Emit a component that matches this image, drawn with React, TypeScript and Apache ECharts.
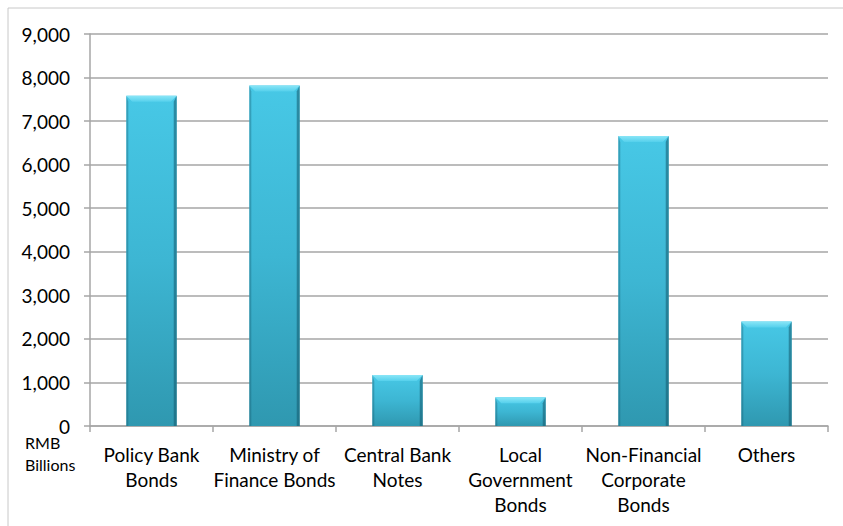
import React, { useEffect, useRef } from "react";
import * as echarts from "echarts";

const categories = [
  "Policy Bank\nBonds",
  "Ministry of\nFinance Bonds",
  "Central Bank\nNotes",
  "Local\nGovernment\nBonds",
  "Non-Financial\nCorporate\nBonds",
  "Others",
];
const values = [7580, 7820, 1170, 660, 6660, 2400];
const yTicks = { min: 0, max: 9000, interval: 1000 };
const unitLabel = "RMB\nBillions";

const FONT = "Lato, 'Open Sans', sans-serif";

export default function App() {
  const ref = useRef<HTMLDivElement>(null);
  useEffect(() => {
    if (!ref.current) return;
    const chart = echarts.init(ref.current, undefined, { renderer: "svg" });
    chart.setOption({
      animation: false,
      backgroundColor: "#ffffff",
      grid: { left: 90, right: 15, top: 34, bottom: 100, containLabel: false },
      graphic: [
        {
          type: "rect",
          shape: { x: 8, y: 8, width: 1000, height: 800 },
          style: { fill: "none", stroke: "#c8c8c8", lineWidth: 1 },
          z: -10,
        },
        {
          type: "text",
          left: 25,
          top: 431,
          style: {
            text: unitLabel,
            fontFamily: FONT,
            fontSize: 16,
            lineHeight: 22,
            fill: "#000",
          },
        },
      ],
      xAxis: {
        type: "category",
        data: categories,
        boundaryGap: true,
        axisLine: { show: true, lineStyle: { color: "#a6a6a6", width: 1.5 } },
        axisTick: { show: true, length: 6, lineStyle: { color: "#a6a6a6", width: 1.5 } },
        axisLabel: {
          interval: 0,
          margin: 16,
          fontFamily: FONT,
          fontSize: 19,
          lineHeight: 25,
          color: "#000",
        },
      },
      yAxis: {
        type: "value",
        min: yTicks.min,
        max: yTicks.max,
        interval: yTicks.interval,
        axisLine: { show: true, lineStyle: { color: "#a6a6a6", width: 1.5 } },
        axisTick: { show: true, length: 6, lineStyle: { color: "#a6a6a6", width: 1.5 } },
        splitLine: { show: true, lineStyle: { color: "#a6a6a6", width: 1.5 } },
        axisLabel: {
          margin: 20,
          fontFamily: FONT,
          fontSize: 19,
          color: "#000",
          formatter: (v: number) => v.toLocaleString("en-US"),
        },
      },
      series: [
        {
          type: "custom",
          data: values.map((v, i) => [i, v]),
          encode: { x: 0, y: 1 },
          renderItem: (params: any, api: any) => {
            const idx = api.value(0);
            const v = api.value(1);
            const top = api.coord([idx, v]);
            const base = api.coord([idx, 0]);
            const bw = api.size([1, 0])[0] * 0.41;
            const x0 = top[0] - bw / 2;
            const x1 = x0 + bw;
            const y0 = top[1];
            const y1 = base[1];
            const bev = 6;
            const side = 3;
            return {
              type: "group",
              children: [
                {
                  type: "rect",
                  shape: { x: x0, y: y0, width: bw, height: y1 - y0 },
                  style: {
                    fill: new echarts.graphic.LinearGradient(0, 0, 0, 1, [
                      { offset: 0, color: "#47c8e6" },
                      { offset: 0.5, color: "#3db6d3" },
                      { offset: 1, color: "#2f98b0" },
                    ]),
                  },
                },
                {
                  type: "polygon",
                  shape: {
                    points: [
                      [x0, y1],
                      [x0 + side - 1, y1],
                      [x0 + side - 1, y0 + bev],
                      [x0, y0],
                    ],
                  },
                  style: { fill: "rgba(20,90,110,0.35)" },
                },
                {
                  type: "polygon",
                  shape: {
                    points: [
                      [x1, y1],
                      [x1 - side, y1],
                      [x1 - side, y0 + bev],
                      [x1, y0],
                    ],
                  },
                  style: { fill: "rgba(20,90,110,0.55)" },
                },
                {
                  type: "polygon",
                  shape: {
                    points: [
                      [x0, y0],
                      [x1, y0],
                      [x1 - bev, y0 + bev],
                      [x0 + bev, y0 + bev],
                    ],
                  },
                  style: {
                    fill: new echarts.graphic.LinearGradient(0, 0, 0, 1, [
                      { offset: 0, color: "#8ae6f7" },
                      { offset: 1, color: "#55d0ec" },
                    ]),
                  },
                },
              ],
            };
          },
        },
      ],
    });
    return () => chart.dispose();
  }, []);
  return (
    <div
      ref={ref}
      style={{ position: "fixed", left: 0, top: 0, width: 843, height: 526 }}
    />
  );
}
